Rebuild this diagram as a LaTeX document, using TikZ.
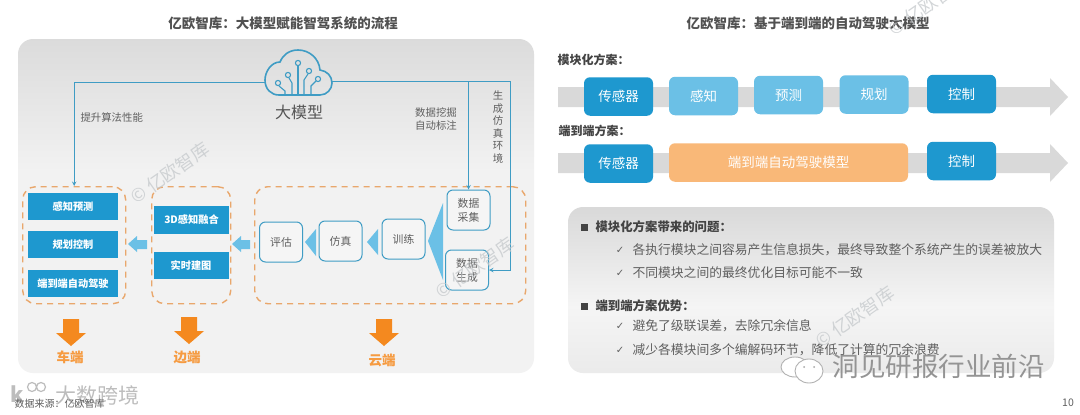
\documentclass[tikz,border=0pt]{standalone}
\usepackage{fontspec}
\setmainfont{Noto Sans CJK SC}
\newfontfamily\symfont{DejaVu Sans}
\usetikzlibrary{positioning}

\definecolor{boxblue}{HTML}{1E98CF}
\definecolor{lightblue}{HTML}{6BC0E6}
\definecolor{linkblue}{HTML}{3F9CC4}
\definecolor{dashorange}{HTML}{E9A76C}
\definecolor{arroworange}{HTML}{F4891F}
\definecolor{softorange}{HTML}{F9B878}
\definecolor{bargray}{HTML}{D9D9D9}
\definecolor{txtgray}{HTML}{5F5F5F}
\definecolor{markgray}{HTML}{C4C8CB}

\pgfdeclareverticalshading{leftpanel}{100bp}{rgb(0bp)=(.95,.95,.95); rgb(55bp)=(.95,.95,.95); rgb(75bp)=(.86,.86,.86); rgb(100bp)=(.86,.86,.86)}
\pgfdeclareverticalshading{rightpanel}{100bp}{rgb(0bp)=(.92,.92,.92); rgb(25bp)=(.92,.92,.92); rgb(45bp)=(.96,.96,.96); rgb(75bp)=(.85,.85,.85); rgb(100bp)=(.85,.85,.85)}

\tikzset{
  title/.style={font=\bfseries\fontsize{13.5}{16}\selectfont, text=txtgray!85!black},
  zone/.style={draw=dashorange, line width=1.4pt, dash pattern=on 6pt off 5pt, rounded corners=13pt, anchor=north west},
  carbox/.style={fill=boxblue, text=white, font=\bfseries\fontsize{10.2}{12}\selectfont, minimum height=27pt, inner sep=0pt},
  cloudbox/.style={draw=linkblue, line width=1pt, fill=black!4, rounded corners=6pt, text=txtgray, font=\fontsize{10.8}{14}\selectfont, align=center, minimum width=43pt, minimum height=40pt, inner sep=0pt},
  flow/.style={draw=linkblue, line width=1pt, >=stealth},
  pipebox/.style={rounded corners=6pt, text=white, font=\fontsize{13.5}{16}\selectfont, minimum width=69pt, minimum height=38.5pt, inner sep=0pt},
  lab/.style={text=txtgray, font=\fontsize{10.4}{12.4}\selectfont, align=center},
  tier/.style={text=arroworange!85!white, font=\bfseries\fontsize{13.5}{16}\selectfont},
  rowlab/.style={anchor=west, text=txtgray!70!black, font=\bfseries\fontsize{12}{14}\selectfont},
  head/.style={anchor=west, text=txtgray!70!black, font=\bfseries\fontsize{12.4}{15}\selectfont},
  item/.style={anchor=west, text=txtgray, font=\fontsize{12.8}{15}\selectfont},
  wmark/.style={text=markgray, opacity=.75, rotate=35, font=\fontsize{18}{20}\selectfont}
}

\begin{document}
\begin{tikzpicture}[x=1pt, y=-1pt]
  \useasboundingbox (0,0) rectangle (1080,415);
  \clip (0,0) rectangle (1080,415);
  \fill[white] (0,0) rectangle (1080,415);

  % Panels
  \shade[rounded corners=15pt, shading=leftpanel] (18,39) rectangle (534,373);
  \shade[rounded corners=15pt, shading=rightpanel] (568,207) rectangle (1054,373);

  % Titles
  \node[title] (lefttitle) at (283,23) {亿欧智库：大模型赋能智驾系统的流程};
  \node[title] (righttitle) at (808,23) {亿欧智库：基于端到端的自动驾驶大模型};

  % Cloud
  \node[minimum width=66pt, minimum height=45pt, inner sep=0pt] (cloud) at (298,72.5) {};
  \coordinate (cloudL) at (265,82);
  \coordinate (cloudR) at (332,81);
  \draw[linkblue, line width=1.6pt] (279,95) -- (320,95) .. controls (327,95) and (332,89) .. (332,83)
    .. controls (332,76) and (327,71) .. (320,70) .. controls (319,58) and (309,50) .. (298,50)
    .. controls (289,50) and (283,55) .. (280,62) .. controls (271,62) and (265,72) .. (265,80)
    .. controls (265,89) and (271,95) .. (279,95) -- cycle;
  \draw[linkblue, line width=1.1pt] (298,95) -- (298,66);
  \draw[linkblue, line width=1.1pt] (304,95) -- (304,80) -- (308,74);
  \draw[linkblue, line width=1.1pt] (292,95) -- (292,83) -- (289,78);
  \draw[linkblue, line width=1.1pt] (311,95) -- (311,86) -- (316,81);
  \draw[linkblue, line width=1.1pt] (285,95) -- (285,91) -- (279,86);
  \foreach \cx/\cy in {298/63, 309/71, 288/75, 318/79, 278/83}
    \draw[linkblue, line width=1.1pt] (\cx,\cy) circle (2.6pt);
  \node[text=txtgray!90!black, font=\fontsize{16}{18}\selectfont] (bigmodel) at (299,112) {大模型};

  % Zones
  \node[zone, minimum width=103pt, minimum height=117pt] (carzone) at (22,186) {};
  \node[zone, minimum width=79pt, minimum height=117pt] (edgezone) at (151,186) {};
  \node[zone, minimum width=271pt, minimum height=117pt] (cloudzone) at (254,186) {};

  % Car boxes
  \node[carbox, minimum width=90pt] (perceive) at (73,206.5) {感知预测};
  \node[carbox, minimum width=90pt] (plan) at (73,244.5) {规划控制};
  \node[carbox, minimum width=90pt] (endtoend) at (73,283.5) {端到端自动驾驶};

  % Edge boxes
  \node[carbox, minimum width=75pt, minimum height=28pt] (fusion) at (191.5,220) {3D感知融合};
  \node[carbox, minimum width=75pt] (mapping) at (191,265.5) {实时建图};

  % Cloud boxes
  \node[cloudbox] (evaluate) at (281,242) {评估};
  \node[cloudbox] (simulate) at (340.5,241) {仿真};
  \node[cloudbox] (train) at (403.5,239) {训练};
  \node[cloudbox] (collect) at (468.5,210) {数据\\采集};
  \node[cloudbox] (generate) at (467,270) {数据\\生成};

  % Links from the cloud
  \draw[flow, ->] (cloudL) -| (carzone.north);
  \draw[flow, ->] (cloudR) -| (collect.north);
  \coordinate (turn) at (510,81);
  \draw[flow, ->] (cloudR) -- (turn) |- (generate.east);
  \node[lab, anchor=west] (boostlab) at (77,118) {提升算法性能};
  \node[lab] (minelab) at (436,119) {数据挖掘\\自动标注};
  \node[lab, font=\fontsize{10.4}{12.6}\selectfont] (simlab) at (498,127) {生\\成\\仿\\真\\环\\境};

  % Block arrows between zones
  \fill[lightblue] (128,244) -- (137,236) -- (137,240) -- (147,240) -- (147,249) -- (137,249) -- (137,252) -- cycle;
  \fill[lightblue] (232,244) -- (241,236) -- (241,240) -- (250,240) -- (250,249) -- (241,249) -- (241,252) -- cycle;
  \fill[lightblue] (305,242) -- (316,229) -- (316,256) -- cycle;
  \fill[lightblue] (367,242) -- (378,229) -- (378,255) -- cycle;
  \fill[lightblue] (428,241) -- (443,203) -- (443,280) -- cycle;

  % Tier arrows
  \foreach \ax/\ay in {71/319, 189/317, 384/319}
    \fill[arroworange] (\ax-8,\ay) -- (\ax+8,\ay) -- (\ax+8,\ay+14) -- (\ax+15,\ay+14) -- (\ax,\ay+27) -- (\ax-15,\ay+14) -- (\ax-8,\ay+14) -- cycle;
  \node[tier] (cartier) at (70,357) {车端};
  \node[tier] (edgetier) at (187,357) {边端};
  \node[tier] (cloudtier) at (382,360) {云端};

  % Right pipelines
  \node[rowlab] (modlab) at (554,60) {模块化方案：};
  \node[rowlab] (e2elab) at (555,131) {端到端方案：};
  \foreach \ry in {97,163}
    \fill[bargray] (558,\ry-10) -- (1050,\ry-10) -- (1050,\ry-19) -- (1068,\ry) -- (1050,\ry+19) -- (1050,\ry+10) -- (558,\ry+10) -- cycle;

  \node[pipebox, fill=boxblue] (sensorA) at (618.5,96.5) {传感器};
  \node[pipebox, fill=lightblue] (percA) at (703.5,96) {感知};
  \node[pipebox, fill=lightblue] (predA) at (788.5,95) {预测};
  \node[pipebox, fill=lightblue] (planA) at (874,94.5) {规划};
  \node[pipebox, fill=boxblue] (ctrlA) at (961.5,94) {控制};
  \node[pipebox, fill=boxblue] (sensorB) at (618.5,163.5) {传感器};
  \node[pipebox, fill=softorange, minimum width=239pt] (modelB) at (788.5,162.5) {端到端自动驾驶模型};
  \node[pipebox, fill=boxblue] (ctrlB) at (961.5,161) {控制};

  % Text panel
  \foreach \hy/\htext in {227/模块化方案带来的问题：, 306/端到端方案优势：} {
    \fill[txtgray!70!black] (581,\hy-3.5) rectangle (588,\hy+3.5);
    \node[head] at (592,\hy) {\htext};
  }
  \foreach \iy/\itext in {250/各执行模块之间容易产生信息损失，最终导致整个系统产生的误差被放大,
                          273/不同模块之间的最终优化目标可能不一致,
                          326/避免了级联误差，去除冗余信息,
                          350/减少各模块间多个编解码环节，降低了计算的冗余浪费} {
    \node[text=txtgray, font=\symfont\fontsize{10}{12}\selectfont] at (620,\iy) {✓};
    \node[item] at (629,\iy) {\itext};
  }

  % Watermarks
  \node[wmark] at (170,173) {© 亿欧智库};
  \node[wmark] at (475,268) {© 亿欧智库};
  \node[wmark] at (855,317) {© 亿欧智库};
  \node[wmark] at (928,5) {© 亿欧智库};

  % Overlay stamps
  \draw[black!30, line width=0.9pt, fill=white] (795,367) ellipse (14pt and 10pt);
  \draw[black!30, line width=0.9pt, fill=white] (809,371) ellipse (14pt and 12pt);
  \fill[black!35] (804,367) circle (1pt) (814,367) circle (1pt);
  \node[text=black!42, font=\fontsize{26.5}{30}\selectfont, anchor=west] (stamp) at (829,366) {洞见研报行业前沿};
  \node[text=black!26, font=\fontsize{21}{24}\selectfont, anchor=west] (crossmark) at (52,395) {大数跨境};
  \node[text=black!26, font=\bfseries\fontsize{21}{24}\selectfont] (kmark) at (17,394) {k};
  \draw[black!26, line width=1.2pt] (32,387) circle (4.5pt) (41,387) circle (4.5pt);
  \node[text=txtgray, font=\fontsize{10}{11}\selectfont, anchor=west] (source) at (11,404) {数据来源：亿欧智库};

  % Page number
  \node[text=txtgray, font=\fontsize{10.5}{12}\selectfont] (pageno) at (1068,403) {10};
\end{tikzpicture}
\end{document}
